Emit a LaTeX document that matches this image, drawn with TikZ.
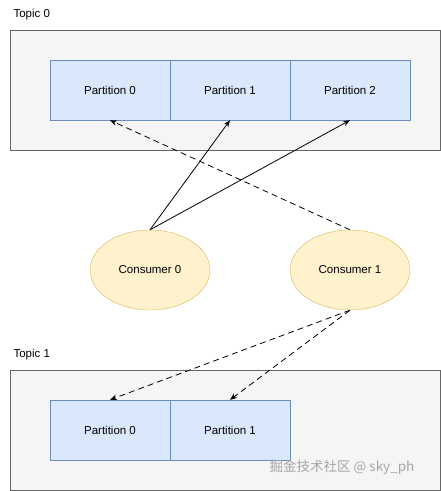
\documentclass[tikz,border=0pt]{standalone}
\usepackage{fontspec}
\setmainfont{Liberation Sans}
\newfontfamily\cjk{Noto Sans CJK SC}
\usetikzlibrary{arrows.meta, shapes.geometric}

\definecolor{topicfill}{HTML}{F5F5F5}
\definecolor{topicline}{HTML}{666666}
\definecolor{partfill}{HTML}{DAE8FC}
\definecolor{partline}{HTML}{6C8EBF}
\definecolor{consfill}{HTML}{FFF2CC}
\definecolor{consline}{HTML}{D6B656}

\begin{document}
\begin{tikzpicture}[x=1pt, y=-1pt, font=\fontsize{11.5}{13}\selectfont,
    topicbox/.style={rectangle, draw=topicline, fill=topicfill, minimum width=430pt, minimum height=120pt},
    partbox/.style={rectangle, draw=partline, fill=partfill, minimum width=120pt, minimum height=60pt},
    consumer/.style={ellipse, draw=consline, fill=consfill, minimum width=120pt, minimum height=80pt},
    link/.style={draw=black, line width=0.8pt, -{Stealth[length=7pt, width=5.5pt]}},
    loose/.style={link, dash pattern=on 6pt off 4pt}]
			\useasboundingbox (0,0) rectangle (441,491);

			\node[topicbox] (topic0) at (225,90){};
			\node[topicbox] (topic1) at (225,430){};
			\node[anchor=west] (label0) at (10,15){Topic 0};
			\node[anchor=west] (label1) at (10,355){Topic 1};

			\node[partbox] (a0) at (110,90){Partition 0};
			\node[partbox] (a1) at (230,90){Partition 1};
			\node[partbox] (a2) at (350,90){Partition 2};

			\node[partbox] (b0) at (110,430){Partition 0};
			\node[partbox] (b1) at (230,430){Partition 1};

			\node[consumer] (c0) at (150,270){Consumer 0};
			\node[consumer] (c1) at (350,270){Consumer 1};

			\node[text=black!35, font=\cjk\fontsize{13.5}{15}\selectfont] (mark) at (342,467){掘金技术社区 @ sky\_ph};

			\draw[link] (c0.north) -- (a1.south);
			\draw[link] (c0.north) -- (a2.south);
			\draw[loose] (c1.north) -- (a0.south);
			\draw[loose] (c1.south) -- (b0.north);
			\draw[loose] (c1.south) -- (b1.north);
			\end{tikzpicture}
\end{document}
